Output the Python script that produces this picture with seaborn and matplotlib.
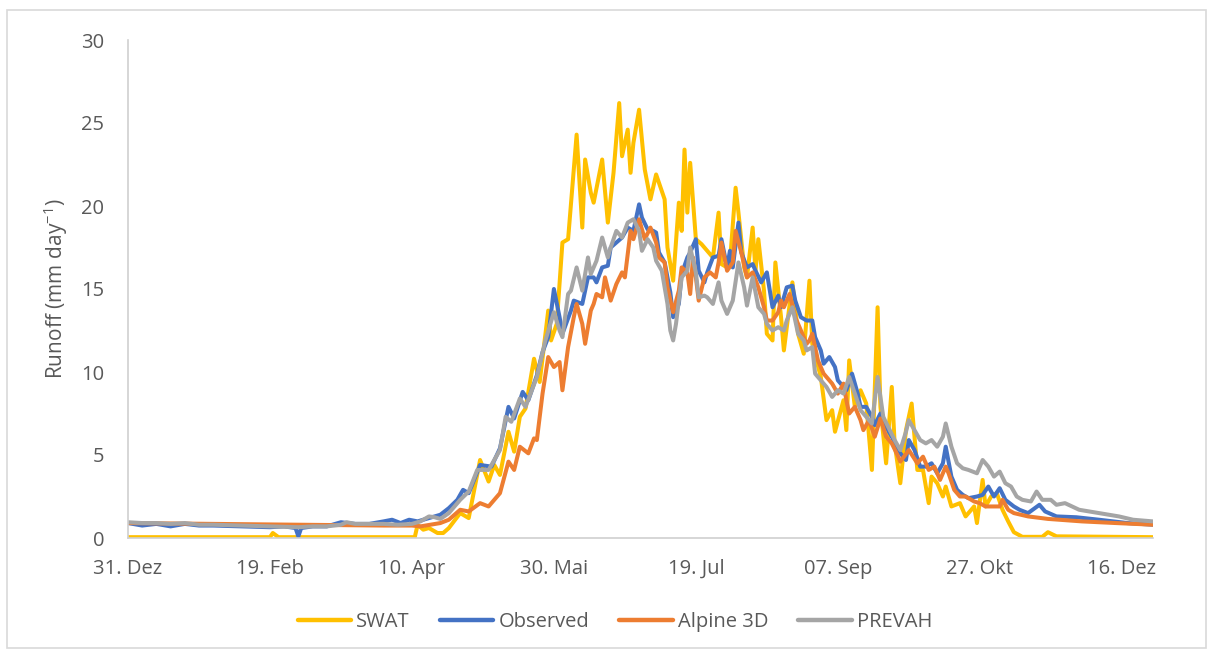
import numpy as np
import pandas as pd
import matplotlib
matplotlib.use("Agg")
import matplotlib.pyplot as plt
from matplotlib.patches import Rectangle
import seaborn as sns

# ---------------- data (day offset from 31. Dez, runoff mm/day) ----------------
swat_day = [0, 50, 51, 53, 101, 102, 104, 106, 109, 111, 113, 117, 120, 124, 127, 129, 131, 134, 136,
            138, 140, 143, 145, 148, 149, 151, 153, 155, 158, 160, 161, 163, 164, 167, 169, 171, 173,
            174, 176, 177, 178, 180, 182, 184, 186, 187, 189, 190, 192, 194, 195, 196, 197, 198, 200,
            202, 206, 208, 209, 211, 212, 214, 215, 217, 218, 220, 221, 222, 224, 225, 227, 228, 230,
            231, 234, 236, 238, 240, 241, 244, 246, 248, 249, 252, 253, 254, 256, 258, 260, 262, 263,
            264, 265, 267, 269, 270, 272, 274, 276, 278, 280, 282, 283, 285, 287, 288, 290, 293, 295,
            298, 299, 301, 302, 304, 306, 308, 310, 312, 315, 322, 324, 327, 361]
swat_val = [0.05, 0.05, 0.3, 0.05, 0.05, 0.8, 0.5, 0.6, 0.3, 0.3, 0.6, 1.5, 1.2, 4.7, 3.4, 4.4, 3.8, 6.4, 5.2,
            7.3, 7.8, 10.8, 9.4, 13.7, 11.9, 12.9, 17.8, 18.0, 24.3, 18.7, 22.8, 20.8, 20.2, 22.8, 19.0, 22.0, 26.2,
            23.0, 24.6, 22.0, 23.8, 25.8, 22.2, 20.4, 21.9, 21.4, 20.4, 17.5, 15.5, 20.2, 18.5, 23.4, 19.6, 22.6, 18.0,
            17.7, 16.9, 19.6, 16.5, 16.3, 16.6, 21.1, 19.6, 16.3, 15.7, 18.7, 16.1, 18.0, 14.9, 12.3, 11.9, 16.6, 13.3,
            11.3, 15.4, 12.3, 11.1, 15.5, 11.7, 9.7, 7.1, 7.7, 6.4, 8.3, 6.5, 10.7, 7.9, 8.9, 8.1, 4.1, 8.9,
            13.9, 7.9, 4.5, 9.1, 5.7, 3.3, 6.5, 8.1, 4.1, 4.1, 2.1, 3.7, 3.3, 2.5, 3.1, 1.9, 2.1, 1.3,
            1.9, 0.9, 3.5, 1.9, 2.5, 2.7, 1.7, 1.0, 0.35, 0.07, 0.07, 0.35, 0.1, 0.05]

obs_day = [0, 5, 10, 15, 20, 25, 30, 40, 50, 55, 59, 60, 61, 65, 70, 75, 80, 85, 90, 93, 96, 99, 102, 106,
           110, 113, 116, 118, 120, 124, 128, 131, 134, 136, 139, 141, 144, 146, 148, 150, 152, 153, 156,
           157, 160, 162, 164, 165, 167, 169, 170, 172, 174, 176, 178, 180, 181, 183, 185, 186, 187, 189,
           191, 192, 194, 195, 197, 198, 200, 201, 203, 204, 206, 208, 209, 211, 212, 213, 215, 216, 218,
           220, 221, 223, 225, 227, 229, 230, 232, 234, 235, 237, 239, 241, 242, 244, 245, 247, 249, 250,
           253, 255, 257, 258, 260, 262, 263, 265, 267, 269, 272, 274, 275, 277, 279, 281, 283, 285, 287,
           288, 290, 292, 294, 296, 299, 301, 303, 305, 307, 309, 312, 314, 317, 321, 323, 327, 334, 342,
           352, 361]
obs_val = [0.9, 0.75, 0.85, 0.7, 0.85, 0.75, 0.75, 0.7, 0.65, 0.7, 0.6, 0.1, 0.6, 0.7, 0.7, 0.95, 0.85, 0.85,
           1.0, 1.1, 0.9, 1.1, 1.0, 1.2, 1.4, 1.8, 2.3, 2.9, 2.7, 4.4, 4.3, 5.4, 7.9, 7.2, 8.8, 8.3, 9.8,
           11.2, 12.1, 15.0, 13.3, 12.3, 13.7, 14.3, 14.1, 15.7, 15.7, 15.4, 16.3, 16.4, 17.5, 17.8, 18.1,
           18.7, 18.5, 20.1, 19.3, 18.6, 18.5, 18.4, 17.2, 16.6, 14.8, 13.3, 14.1, 15.9, 16.9, 17.2, 18.0,
           16.1, 15.4, 16.0, 16.9, 17.0, 18.0, 16.3, 17.3, 16.3, 19.0, 17.2, 16.3, 16.5, 16.1, 15.4, 16.0,
           13.9, 14.6, 13.9, 15.1, 15.2, 14.3, 13.3, 13.1, 13.1, 12.1, 11.3, 10.5, 10.9, 10.3, 9.5, 8.9,
           9.9, 8.7, 7.9, 7.9, 7.3, 6.8, 7.5, 6.7, 6.1, 5.1, 4.7, 5.9, 5.3, 4.3, 4.3, 4.5, 3.9, 4.5, 5.5,
           3.7, 2.9, 2.6, 2.4, 2.5, 2.6, 3.1, 2.5, 3.0, 2.3, 1.9, 1.7, 1.5, 2.0, 1.6, 1.3, 1.25, 1.1, 0.9, 0.8]

a3d_day = [0, 30, 60, 90, 100, 103, 110, 113, 117, 120, 124, 127, 131, 134, 136, 138, 141, 143, 144, 146,
           148, 150, 152, 153, 155, 157, 158, 160, 161, 163, 164, 165, 167, 168, 170, 172, 174, 175, 177,
           178, 180, 182, 184, 186, 187, 189, 190, 192, 194, 195, 197, 198, 199, 200, 201, 203, 205, 207,
           208, 209, 211, 213, 214, 216, 218, 220, 222, 224, 225, 227, 229, 230, 231, 233, 235, 237, 239,
           240, 241, 243, 245, 246, 248, 250, 252, 253, 254, 256, 258, 259, 261, 263, 265, 267, 269, 271,
           272, 275, 278, 280, 282, 284, 286, 288, 289, 291, 293, 295, 298, 300, 302, 305, 307, 308, 310,
           312, 317, 324, 336, 348, 361]
a3d_val = [0.9, 0.85, 0.8, 0.75, 0.75, 0.7, 0.9, 1.1, 1.7, 1.6, 2.1, 1.9, 2.7, 4.6, 4.1, 5.5, 5.1, 6.0, 5.9,
           8.7, 10.9, 10.3, 10.6, 8.9, 11.5, 13.3, 14.1, 12.9, 11.7, 13.7, 14.1, 14.7, 14.5, 15.7, 14.3, 15.3,
           16.0, 15.7, 18.5, 18.0, 19.2, 18.0, 18.7, 17.8, 16.9, 16.6, 15.1, 13.6, 14.9, 16.3, 16.0, 14.7,
           16.9, 15.7, 14.3, 15.7, 16.0, 15.7, 16.6, 17.8, 16.1, 16.6, 18.5, 17.2, 15.7, 16.0, 15.1, 13.9,
           13.1, 13.1, 13.6, 14.3, 13.9, 14.7, 13.3, 12.5, 11.7, 11.9, 12.3, 10.7, 9.9, 9.7, 9.3, 8.7, 9.3,
           8.3, 7.5, 7.9, 7.1, 6.5, 7.1, 6.1, 7.2, 6.1, 5.7, 5.0, 4.6, 5.3, 4.5, 4.9, 4.1, 4.3, 3.5, 4.3,
           3.9, 2.9, 2.5, 2.5, 2.2, 2.1, 1.9, 1.9, 1.9, 2.3, 1.7, 1.5, 1.3, 1.15, 1.0, 0.9, 0.8]

prevah_day = [0, 5, 10, 15, 20, 25, 30, 40, 50, 60, 65, 70, 75, 77, 80, 85, 90, 95, 100, 103, 106, 108,
              110, 113, 117, 120, 123, 127, 131, 133, 135, 138, 140, 144, 147, 150, 152, 153, 155, 156,
              158, 160, 162, 163, 165, 167, 169, 170, 172, 174, 176, 178, 180, 181, 183, 185, 186, 188,
              190, 191, 192, 193, 195, 197, 198, 200, 201, 203, 204, 206, 208, 209, 211, 213, 215, 217,
              218, 220, 222, 224, 225, 227, 229, 231, 232, 234, 236, 238, 239, 241, 242, 244, 246, 248,
              250, 252, 254, 256, 258, 260, 262, 264, 266, 268, 270, 272, 274, 275, 277, 279, 281, 283,
              285, 287, 288, 290, 292, 294, 296, 299, 301, 303, 305, 307, 309, 311, 313, 315, 318, 320,
              322, 325, 327, 330, 335, 342, 349, 354, 361]
prevah_val = [0.95, 0.9, 0.9, 0.85, 0.9, 0.8, 0.8, 0.75, 0.7, 0.65, 0.7, 0.7, 0.8, 0.95, 0.85, 0.85, 0.85,
              0.8, 0.85, 1.0, 1.3, 1.25, 1.15, 1.5, 2.3, 2.8, 4.1, 4.1, 5.3, 7.3, 7.0, 8.4, 7.9, 9.7, 11.9,
              13.6, 12.5, 12.1, 14.7, 14.9, 16.3, 14.9, 16.9, 15.9, 16.7, 18.1, 16.9, 17.5, 18.5, 18.1, 19.0,
              19.2, 18.5, 17.3, 18.0, 17.5, 16.7, 16.1, 14.1, 12.5, 11.9, 12.9, 15.7, 16.1, 17.5, 16.0, 14.5,
              14.6, 14.5, 14.1, 15.4, 14.3, 13.5, 14.3, 16.6, 15.1, 14.0, 15.7, 13.9, 13.5, 12.9, 12.5, 12.7,
              12.5, 13.1, 13.9, 12.3, 11.9, 11.3, 11.5, 9.9, 9.5, 9.1, 8.5, 8.9, 8.7, 9.7, 8.7, 7.7, 7.3,
              6.9, 9.7, 7.3, 6.6, 5.9, 5.3, 6.4, 7.1, 6.5, 5.9, 5.7, 5.9, 5.5, 6.1, 6.9, 5.5, 4.5, 4.2, 4.1,
              3.9, 4.7, 4.3, 3.7, 4.0, 3.3, 3.1, 2.5, 2.3, 2.2, 2.8, 2.3, 2.3, 2.0, 2.1, 1.7, 1.5, 1.3, 1.1, 1.0]

series_names = ["SWAT", "Observed", "Alpine 3D", "PREVAH"]
series_colors = ["#FFC000", "#4472C4", "#ED7D31", "#A5A5A5"]
tick_days = [0, 50, 100, 150, 200, 250, 300, 350]
tick_labels = ["31. Dez", "19. Feb", "10. Apr", "30. Mai", "19. Jul", "07. Sep", "27. Okt", "16. Dez"]
y_ticks = [0, 5, 10, 15, 20, 25, 30]

frames = []
for name, d, v in zip(series_names,
                      [swat_day, obs_day, a3d_day, prevah_day],
                      [swat_val, obs_val, a3d_val, prevah_val]):
    frames.append(pd.DataFrame({"day": d, "runoff": v, "series": name}))
df = pd.concat(frames, ignore_index=True)

# ---------------- plot ----------------
sns.set_theme(style="white")
plt.rcParams["font.family"] = ["Open Sans", "DejaVu Sans"]
plt.rcParams["mathtext.default"] = "regular"

W, H = 1213, 655
FS = 14.5
fig = plt.figure(figsize=(W / 100, H / 100), dpi=100)
ax = fig.add_axes([128 / W, 1 - 538 / H, (1153 - 128) / W, (538 - 40) / H])

sns.lineplot(data=df, x="day", y="runoff", hue="series", hue_order=series_names,
             palette=dict(zip(series_names, series_colors)), estimator=None,
             linewidth=2.9, ax=ax, legend=False)
for ln in ax.lines:
    ln.set_solid_joinstyle("round")
    ln.set_solid_capstyle("round")

ax.set_xlim(0, 361)
ax.set_ylim(0, 30)
ax.set_xticks(tick_days)
ax.set_xticklabels(tick_labels)
ax.set_yticks(y_ticks)
ax.tick_params(axis="both", length=0, labelsize=FS, colors="#595959")
ax.tick_params(axis="y", pad=17)
ax.tick_params(axis="x", pad=15)
ax.set_xlabel("")
ax.set_ylabel("Runoff (mm day$^{-1}$)", fontsize=15, color="#595959")
ax.yaxis.set_label_coords(-0.057, 0.5)

for s in ["top", "right"]:
    ax.spines[s].set_visible(False)
for s in ["left", "bottom"]:
    ax.spines[s].set_color("#D0D0D0")
    ax.spines[s].set_linewidth(1.2)
ax.grid(False)

handles = [plt.Line2D([], [], color=c, lw=3.2) for c in series_colors]
fig.legend(handles, series_names, loc="center", bbox_to_anchor=(615 / W, 1 - 622 / H),
           ncol=4, frameon=False, fontsize=FS, labelcolor="#595959",
           handlelength=2.65, handletextpad=0.25, columnspacing=1.5)

fig.patches.append(Rectangle((7 / W, 1 - 648 / H), (1206 - 7) / W, (648 - 10) / H,
                             transform=fig.transFigure, fill=False, edgecolor="#D9D9D9", lw=1.2))

fig.savefig("out.png", dpi=100)
